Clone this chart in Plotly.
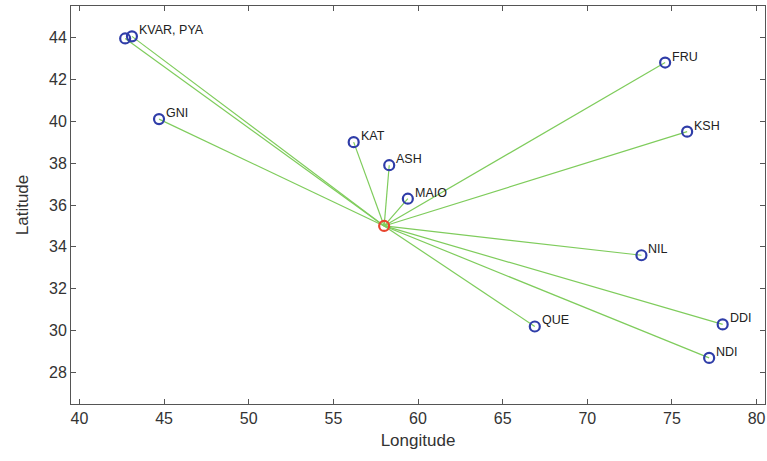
import plotly.graph_objects as go

# Event (origin) location
center_lon = 58.0
center_lat = 35.0

# Stations
stations = ["KVAR", "PYA", "GNI", "KAT", "ASH", "MAIO", "FRU", "KSH", "NIL", "QUE", "DDI", "NDI"]
station_lon = [42.7, 43.1, 44.7, 56.2, 58.3, 59.4, 74.6, 75.9, 73.2, 66.9, 78.0, 77.2]
station_lat = [43.95, 44.05, 40.1, 39.0, 37.9, 36.3, 42.8, 39.5, 33.6, 30.2, 30.3, 28.7]
station_labels = ["", "KVAR, PYA", "GNI", "KAT", "ASH", "MAIO", "FRU", "KSH", "NIL", "QUE", "DDI", "NDI"]

x_ticks = [40, 45, 50, 55, 60, 65, 70, 75, 80]
y_ticks = [28, 30, 32, 34, 36, 38, 40, 42, 44]

FONT = "Liberation Sans, Arial, Helvetica, sans-serif"
GREEN = "#7fcc5c"
BLUE = "#2f3da8"
RED = "#e8442e"

fig = go.Figure()

# Ray paths from event to each station
for lon, lat in zip(station_lon, station_lat):
    fig.add_trace(go.Scatter(
        x=[center_lon, lon], y=[center_lat, lat], mode="lines",
        line=dict(color=GREEN, width=1.2), hoverinfo="skip", showlegend=False))

# Stations
fig.add_trace(go.Scatter(
    x=station_lon, y=station_lat, mode="markers",
    marker=dict(symbol="circle-open", size=10, color=BLUE, line=dict(width=2.2, color=BLUE)),
    showlegend=False))

# Event
fig.add_trace(go.Scatter(
    x=[center_lon], y=[center_lat], mode="markers",
    marker=dict(symbol="circle-open", size=10, color=RED, line=dict(width=2.2, color=RED)),
    showlegend=False))

for lon, lat, lab in zip(station_lon, station_lat, station_labels):
    if lab:
        fig.add_annotation(x=lon, y=lat, text=lab, showarrow=False,
                           xanchor="left", yanchor="middle", xshift=5, yshift=6,
                           font=dict(family=FONT, size=12.5, color="#222"))

axis_common = dict(
    showgrid=False, zeroline=False, showline=True, linecolor="#555", linewidth=1,
    ticks="inside", ticklen=5, tickcolor="#555", mirror="ticks",
    tickfont=dict(family=FONT, size=16, color="#333"),
)

fig.update_xaxes(range=[39.5, 80.5], tickvals=x_ticks,
                 title=dict(text="Longitude", font=dict(family=FONT, size=17, color="#333"), standoff=7),
                 **axis_common)
fig.update_yaxes(range=[26.5, 45.5], tickvals=y_ticks,
                 title=dict(text="Latitude", font=dict(family=FONT, size=17, color="#333"), standoff=16),
                 **axis_common)

fig.update_layout(
    width=767, height=461,
    margin=dict(l=71, r=2, t=6, b=57),
    paper_bgcolor="white", plot_bgcolor="white",
)

fig.write_html("out.html")
